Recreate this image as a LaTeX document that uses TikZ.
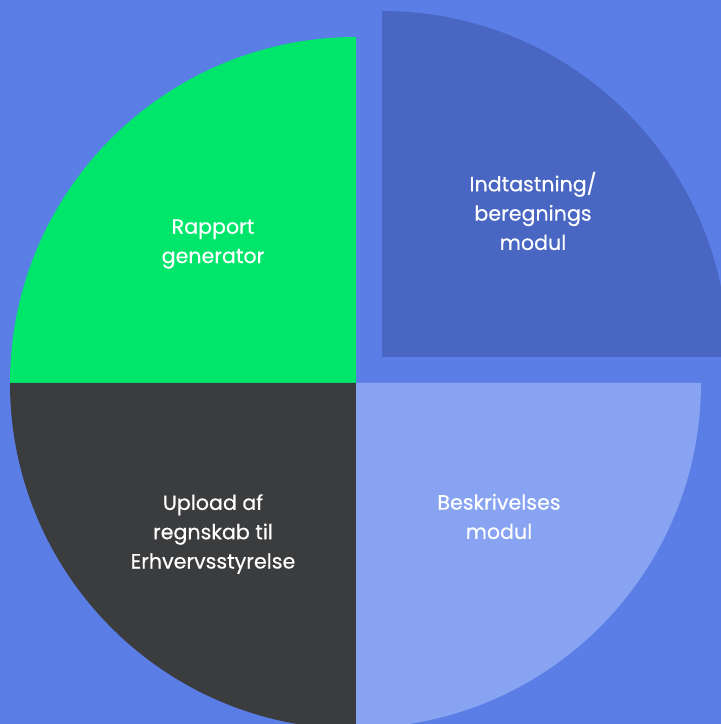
\documentclass[tikz,border=0pt]{standalone}
\usepackage{fontspec}
\setmainfont{Poppins}[FakeBold=0.4]
\definecolor{bg}{HTML}{5A7EE6}
\definecolor{pgreen}{HTML}{00E66B}
\definecolor{pgray}{HTML}{3B3C3E}
\definecolor{plight}{HTML}{87A3F1}
\definecolor{pdark}{HTML}{4866C2}
\tikzset{lbl/.style={text=white,align=center,font=\fontsize{20.6}{29.3}\selectfont}}
\begin{document}
\begin{tikzpicture}[x=1pt,y=1pt]
\fill[bg] (0,0) rectangle (721,724);
\useasboundingbox (0,0) rectangle (721,724);
\begin{scope}
\clip (0,0) rectangle (721,724);
\coordinate (c) at (356,341);
\coordinate (e) at (382,367);
\fill[pgreen] (c) -- ++(-346,0) arc[start angle=180,end angle=90,radius=346] -- cycle;
\fill[pgray] (c) -- ++(0,-346) arc[start angle=270,end angle=180,radius=346] -- cycle;
\fill[plight] (c) -- ++(345,0) arc[start angle=0,end angle=-90,radius=345] -- cycle;
\fill[pdark] (e) -- ++(0,346) arc[start angle=90,end angle=0,radius=346] -- cycle;
\end{scope}
\node[lbl] (rg) at (213,480) {Rapport\\generator};
\node[lbl] (ib) at (533,513) {Indtastning/\\beregnings\\modul};
\node[lbl] (bm) at (499,207.5) {Beskrivelses\\modul};
\node[lbl] (up) at (213,190) {Upload af\\regnskab til\\Erhvervsstyrelse};
\end{tikzpicture}
\end{document}
